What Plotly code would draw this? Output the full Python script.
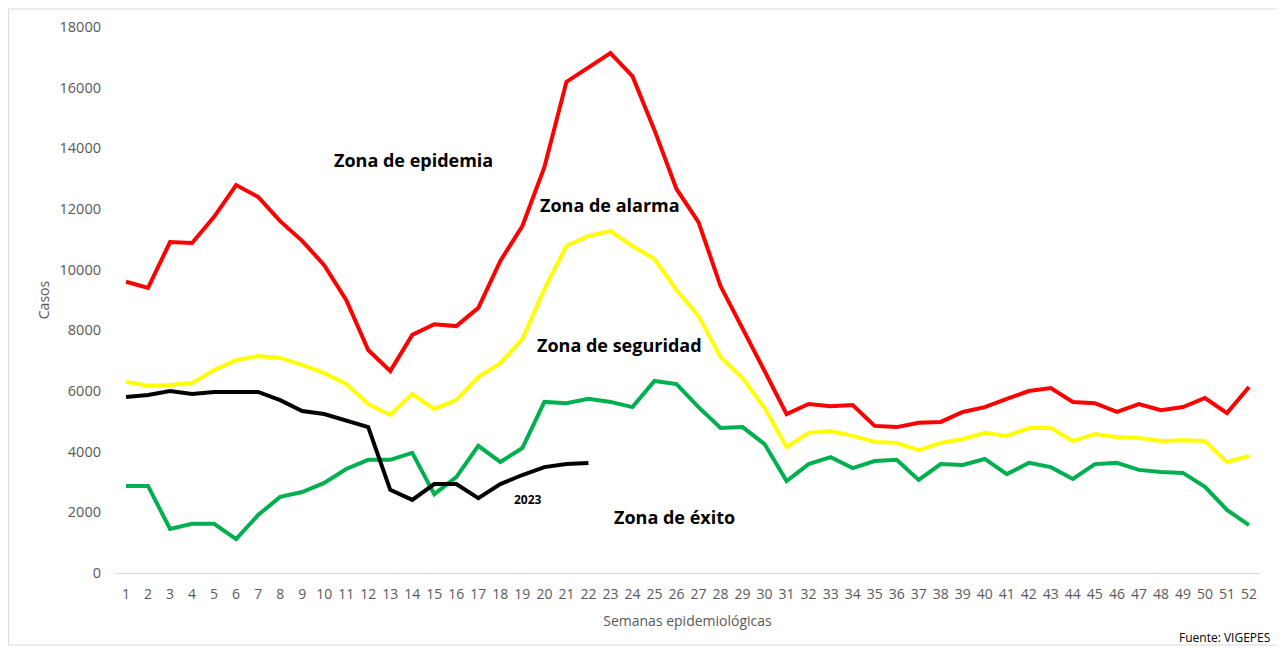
import plotly.graph_objects as go

weeks = list(range(1, 53))
week_labels = [str(w) for w in weeks]

epidemia = [9600, 9400, 10910, 10880, 11740, 12790, 12400, 11600, 10950, 10150,
            9000, 7350, 6660, 7850, 8200, 8140, 8740, 10290, 11440, 13380,
            16190, 16650, 17140, 16380, 14600, 12660, 11570, 9460, 8080, 6660,
            5240, 5570, 5500, 5540, 4850, 4810, 4950, 4980, 5310, 5470,
            5740, 6000, 6100, 5640, 5600, 5310, 5570, 5370, 5470, 5770,
            5270, 6130]

alarma = [6300, 6170, 6200, 6260, 6690, 7020, 7150, 7090, 6860, 6590,
          6230, 5570, 5210, 5900, 5410, 5700, 6460, 6920, 7710, 9360,
          10780, 11110, 11270, 10780, 10350, 9330, 8470, 7120, 6430, 5440,
          4150, 4620, 4680, 4520, 4320, 4290, 4050, 4290, 4420, 4620,
          4520, 4780, 4780, 4350, 4580, 4480, 4450, 4350, 4380, 4350,
          3660, 3860]

seguridad = [2870, 2870, 1450, 1620, 1620, 1120, 1910, 2510, 2670, 2970,
             3430, 3730, 3730, 3960, 2600, 3160, 4190, 3660, 4120, 5640,
             5600, 5740, 5640, 5470, 6330, 6230, 5470, 4780, 4810, 4250,
             3030, 3590, 3820, 3460, 3690, 3730, 3070, 3590, 3560, 3760,
             3260, 3630, 3490, 3100, 3590, 3630, 3400, 3330, 3300, 2840,
             2080, 1580]

weeks_2023 = list(range(1, 23))
casos_2023 = [5800, 5870, 6000, 5900, 5970, 5970, 5970, 5700, 5340, 5240,
              5040, 4810, 2740, 2410, 2930, 2930, 2470, 2930, 3230, 3490,
              3590, 3630]

zone_labels = ["Zona de epidemia", "Zona de alarma", "Zona de seguridad", "Zona de éxito"]
zone_label_x = [14.05, 22.98, 23.4, 25.9]
zone_label_y = [13620, 12140, 7520, 1850]

fig = go.Figure()
fig.add_trace(go.Scatter(x=weeks, y=epidemia, mode="lines", line=dict(color="#ff0000", width=4), name="Epidemia"))
fig.add_trace(go.Scatter(x=weeks, y=alarma, mode="lines", line=dict(color="#ffff00", width=4), name="Alarma"))
fig.add_trace(go.Scatter(x=weeks, y=seguridad, mode="lines", line=dict(color="#00b050", width=4), name="Seguridad"))
fig.add_trace(go.Scatter(x=weeks_2023, y=casos_2023, mode="lines", line=dict(color="#000000", width=4), name="2023"))

for t, xx, yy in zip(zone_labels, zone_label_x, zone_label_y):
    fig.add_annotation(x=xx, y=yy, text=f"<b>{t}</b>", showarrow=False,
                       font=dict(family="Open Sans", size=18, color="#000000"))
fig.add_annotation(x=19.27, y=2420, text="<b>2023</b>", showarrow=False,
                   font=dict(family="Open Sans", size=12, color="#000000"))

fig.add_annotation(xref="paper", yref="paper", x=1.0105, y=-0.119, xanchor="right", yanchor="middle",
                   text="Fuente: VIGEPES", showarrow=False,
                   font=dict(family="Open Sans", size=12, color="#000000"))

fig.add_shape(type="rect", xref="paper", yref="paper", x0=-0.0930, x1=1.0175, y0=-0.1319, y1=1.033,
              line=dict(color="#d9d9d9", width=1), fillcolor="rgba(0,0,0,0)")

fig.update_layout(
    width=1285, height=648,
    margin=dict(l=107, r=33, t=19, b=83),
    paper_bgcolor="white", plot_bgcolor="white",
    showlegend=False,
    font=dict(family="Open Sans", color="#595959", size=14),
    xaxis=dict(range=[0.5, 52.5], tickmode="array", tickvals=weeks, ticktext=week_labels,
               showgrid=False, zeroline=False, showline=True, linecolor="#d9d9d9", linewidth=1,
               ticks="", tickfont=dict(size=14, color="#595959"), automargin=False,
               ticklabelstandoff=8,
               title=dict(text="Semanas epidemiológicas", font=dict(size=14, color="#595959"), standoff=14)),
    yaxis=dict(range=[0, 18000], tickmode="linear", tick0=0, dtick=2000, tickformat="d",
               showgrid=False, zeroline=False, showline=False, ticks="", automargin=False,
               ticklabelstandoff=13, tickfont=dict(size=14.5, color="#595959"),
               title=dict(text="Casos", font=dict(size=14, color="#595959"), standoff=6)),
)

fig.write_html("out.html")
